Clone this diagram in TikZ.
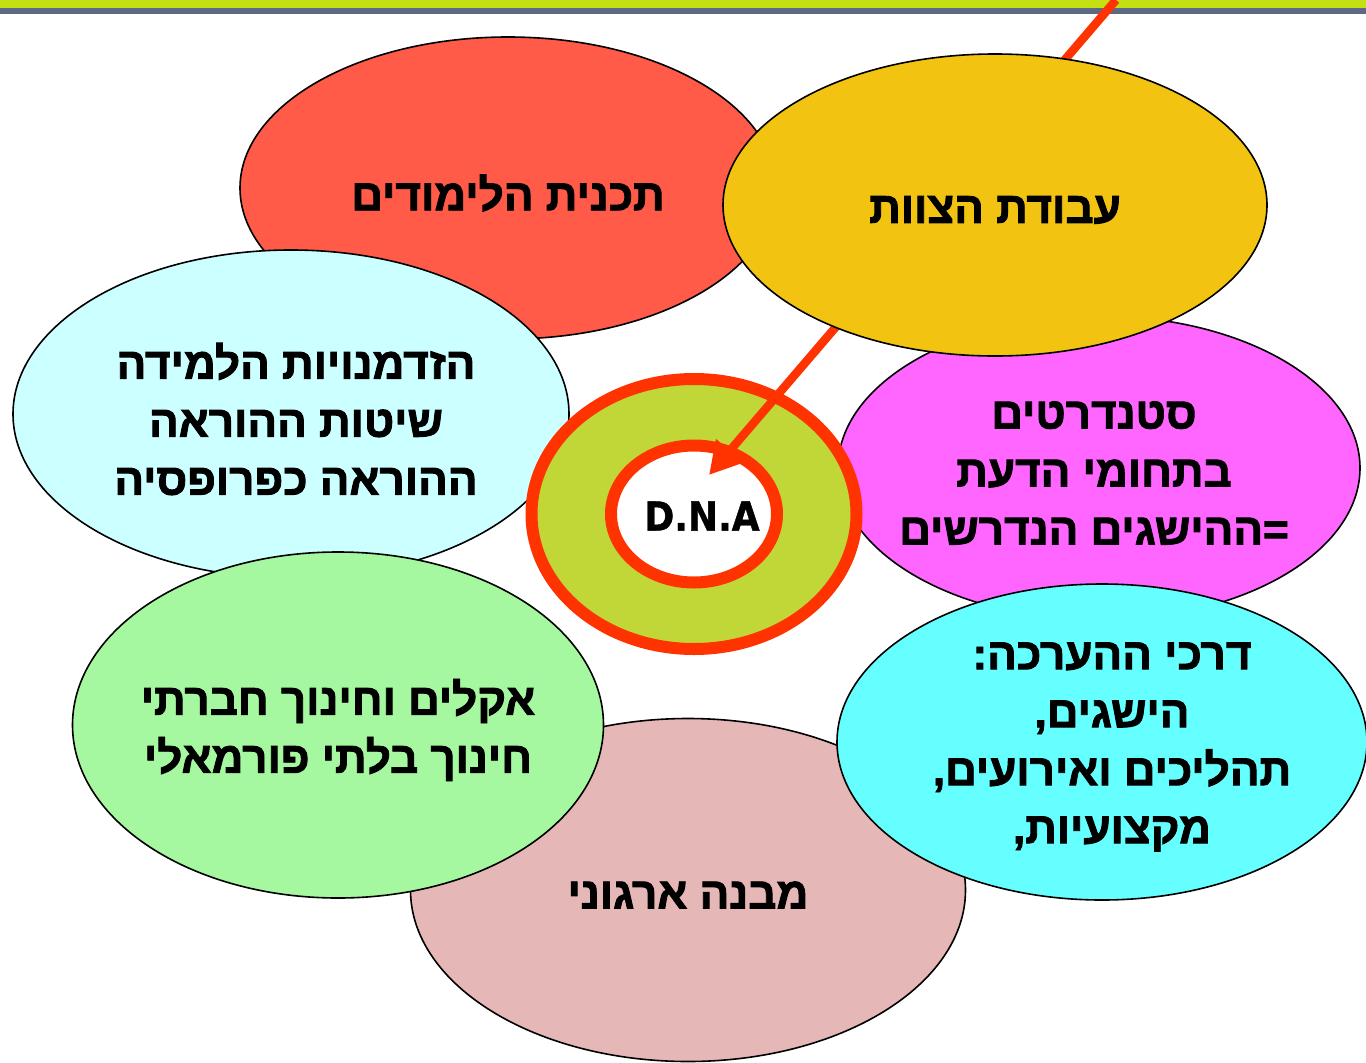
\documentclass[tikz,border=0pt]{standalone}
\usepackage{fontspec}
\setmainfont{DejaVu Sans}
\newfontfamily\dnafont[BoldFeatures={FakeBold=1}]{DejaVu Sans Condensed}
\newfontfamily\hebfont[Script=Hebrew,BoldFeatures={FakeBold=2}]{Liberation Sans}
\TeXXeTstate=1
\usetikzlibrary{shapes.geometric,arrows.meta}
\definecolor{barGreen}{HTML}{C4DF12}
\definecolor{barGray}{HTML}{5C6A85}
\definecolor{cRed}{HTML}{FF5B48}
\definecolor{cYellow}{HTML}{F2C311}
\definecolor{cIce}{HTML}{CCFFFF}
\definecolor{cPink}{HTML}{FF66FF}
\definecolor{cMint}{HTML}{A6F8A0}
\definecolor{cRose}{HTML}{E5B7B7}
\definecolor{cCyan}{HTML}{66FFFF}
\definecolor{ringGreen}{HTML}{C0D737}
\definecolor{ringRed}{HTML}{FF3300}

\begin{document}
\begin{tikzpicture}[x=1pt,y=-1pt,
  blob/.style={ellipse,draw=black,line width=1.6pt,inner sep=0pt},
  txt/.style={font=\hebfont\bfseries\fontsize{44}{58}\selectfont,align=center,yshift=-5pt}]
  \useasboundingbox (0,0) rectangle (1366,1063);
  \fill[barGreen] (0,0) rectangle (1366,8);
  \fill[barGray] (0,8) rectangle (1366,13.5);
  \node[blob,fill=cRed,minimum width=536pt,minimum height=302pt,
    label={[txt]center:{\beginR תכנית הלימודים\endR}}] (plan) at (508,188) {};
  \node[blob,fill=cIce,minimum width=556pt,minimum height=328pt,
    label={[txt,xshift=5pt]center:{\beginR הזדמנויות הלמידה\endR\\\beginR שיטות ההוראה\endR\\\beginR ההוראה כפרופסיה\endR}}] (methods) at (291,414) {};
  \node[blob,fill=cRose,minimum width=555pt,minimum height=343pt,
    label={[txt]center:{\beginR מבנה ארגוני\endR}}] (structure) at (688,890) {};
  \node[blob,fill=cMint,minimum width=531pt,minimum height=346pt,
    label={[txt]center:{\beginR אקלים וחינוך חברתי\endR\\\beginR חינוך בלתי פורמאלי\endR}}] (climate) at (338,725) {};
  \node[blob,fill=cPink,minimum width=522pt,minimum height=304pt,
    label={[txt,xshift=-5pt]center:{\beginR סטנדרטים\endR\\\beginR בתחומי הדעת\endR\\\beginR =\kern0pt ההישגים הנדרשים\endR}}] (standards) at (1099,468) {};
  \node[blob,fill=cCyan,minimum width=530pt,minimum height=316pt,
    label={[txt,xshift=10pt]center:{\beginR דרכי ההערכה\kern0pt:\endR\\\beginR הישגים\kern0pt,\endR\\\beginR תהליכים ואירועים\kern0pt,\endR\\\beginR מקצועיות\kern0pt,\endR}}] (assess) at (1102,742) {};
  \node[ellipse,draw=ringRed,line width=12pt,fill=ringGreen,minimum width=325pt,minimum height=270pt] (dna) at (694,514) {};
  \node[ellipse,draw=ringRed,line width=12pt,fill=white,inner sep=0pt,minimum width=166pt,minimum height=137pt] (core) at (dna.center) {};
  \node[font=\dnafont\bfseries\fontsize{40}{44}\selectfont,inner sep=0pt] (dnatxt) at ([shift={(8,2)}]core.center) {D.N.A};
  \coordinate (src) at (1116,0);
  \coordinate (aim) at (709,475);
  \draw[ringRed,line width=8.5pt,-{Triangle[length=32pt,width=34pt]}] (src) -- (aim);
  \node[blob,fill=cYellow,minimum width=544pt,minimum height=302pt,
    label={[txt]center:{\beginR עבודת הצוות\endR}}] (team) at (995,205) {};
\end{tikzpicture}
\end{document}
